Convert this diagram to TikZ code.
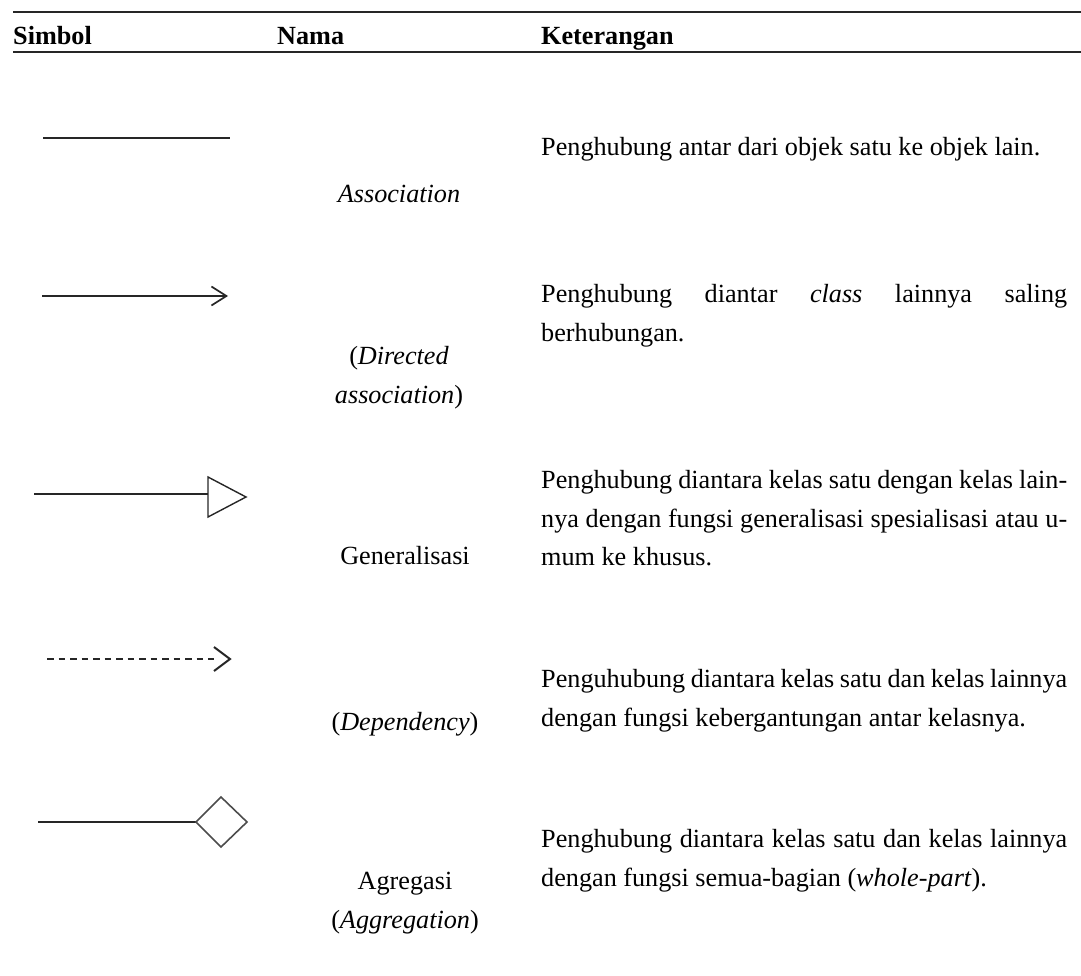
\documentclass[tikz,border=0pt]{standalone}
\usepackage{fontspec}
\setmainfont{Liberation Serif}
\usetikzlibrary{arrows.meta}
\begin{document}
\begin{tikzpicture}[x=1pt,y=-1pt,
  txt/.style={inner sep=0pt, anchor=base west, font=\fontsize{26.2}{39}\selectfont},
  nm/.style={inner sep=0pt, anchor=base, font=\fontsize{26.2}{39}\selectfont},
  hd/.style={inner sep=0pt, anchor=base west, font=\fontsize{26.2}{39}\selectfont\bfseries},
  rule/.style={draw=black!85},
  sym/.style={draw=black!85, line width=1.7pt},
  chev/.style={-{Straight Barb[length=15pt,width=19pt,line width=1.7pt]}},
]
\useasboundingbox (0,0) rectangle (1081,976);

% rules
\draw[rule, line width=2pt] (13,12) -- (1081,12);
\draw[rule, line width=1.6pt] (13,52) -- (1081,52);

% header
\node[hd] (hs) at (13,45) {Simbol};
\node[hd] (hn) at (277,45) {Nama};
\node[hd] (hk) at (541,45) {Keterangan};

% row 1 : association
\coordinate (a1) at (43,138);
\coordinate (b1) at (230,138);
\draw[sym] (a1) -- (b1);
\node[nm] (n1) at (399,203) {\textit{Association}};
\node[txt] (d1) at (541,156) {Penghubung antar dari objek satu ke objek lain.};

% row 2 : directed association
\coordinate (a2) at (42,296);
\coordinate (b2) at (228,296);
\draw[sym, chev] (a2) -- (b2);
\node[nm] (n2a) at (399,364) {(\textit{Directed}};
\node[nm] (n2b) at (399,403) {\textit{association})};
\node[txt] (d2a) at (541,302) {\makebox[526pt][s]{Penghubung diantar \textit{class} lainnya saling}};
\node[txt] (d2b) at (541,341) {berhubungan.};

% row 3 : generalisasi
\coordinate (a3) at (34,494);
\coordinate (b3) at (208,494);
\draw[sym, line width=1.4pt] (a3) -- (b3);
\draw[sym, line width=1.4pt, line join=miter] (208,477) -- (246,497) -- (208,517) -- cycle;
\node[nm] (n3) at (405,564) {Generalisasi};
\node[txt] (d3a) at (541,488) {\makebox[526pt][s]{Penghubung diantara kelas satu dengan kelas lain-}};
\node[txt] (d3b) at (541,527) {\makebox[526pt][s]{nya dengan fungsi generalisasi spesialisasi atau u-}};
\node[txt] (d3c) at (541,565) {mum ke khusus.};

% row 4 : dependency
\coordinate (a4) at (47,659);
\coordinate (b4) at (230,659);
\coordinate (c4) at (214,659);
\draw[sym, line width=2pt, dash pattern=on 6.5pt off 5pt] (a4) -- (c4);
\draw[sym, line width=2pt] (214,647) -- (b4) -- (214,671);
\node[nm] (n4) at (405,730) {(\textit{Dependency})};
\node[txt] (d4a) at (541,687) {\makebox[526pt][s]{Penguhubung diantara kelas satu dan kelas lainnya}};
\node[txt] (d4b) at (541,726) {dengan fungsi kebergantungan antar kelasnya.};

% row 5 : aggregation
\coordinate (a5) at (38,822);
\coordinate (b5) at (196,822);
\draw[sym] (a5) -- (b5);
\draw[draw=black!70, line width=1.6pt] (b5) -- (221,797) -- (247,822) -- (221,847) -- cycle;
\node[nm] (n5a) at (405,889) {Agregasi};
\node[nm] (n5b) at (405,928) {(\textit{Aggregation})};
\node[txt] (d5a) at (541,847) {\makebox[526pt][s]{Penghubung diantara kelas satu dan kelas lainnya}};
\node[txt] (d5b) at (541,886) {dengan fungsi semua-bagian (\textit{whole-part}).};
\end{tikzpicture}
\end{document}
